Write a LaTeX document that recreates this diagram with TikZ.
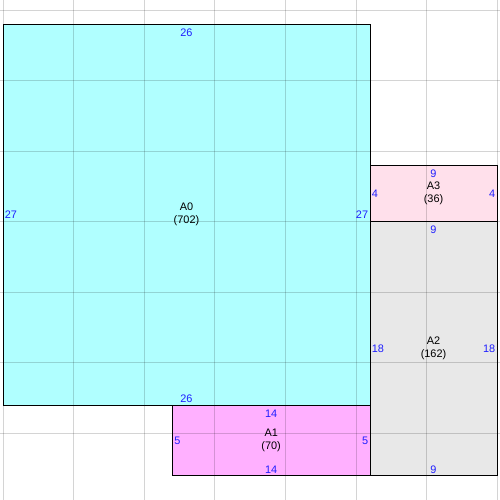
\documentclass[tikz,border=0pt]{standalone}
\usepackage{fontspec}
\setmainfont{Liberation Sans}
\definecolor{cyanarea}{HTML}{B0FFFF}
\definecolor{magentaarea}{HTML}{FFB0FF}
\definecolor{greyarea}{HTML}{E8E8E8}
\definecolor{pinkarea}{HTML}{FFE0EB}
\definecolor{sideblue}{HTML}{1E1EFF}

\begin{document}
\begin{tikzpicture}[x=0.5cm,y=-0.5cm]
   \useasboundingbox (-0.21,-1.70) rectangle (35.21,33.70);
   \tikzstyle{side}=[text=sideblue, inner sep=0pt, font=\fontsize{11}{13}\selectfont]
   \tikzstyle{areaname}=[align=center, inner sep=0pt, font=\fontsize{11}{13}\selectfont]
   \tikzstyle{area}=[draw=black, line width=0.8pt]
   % fills
   \fill[cyanarea] (0,0) rectangle (26,27);
   \fill[magentaarea] (12,27) rectangle (26,32);
   \fill[greyarea] (26,14) rectangle (35,32);
   \fill[pinkarea] (26,10) rectangle (35,14);
   % grid
   \foreach \x in {0,5,...,35}
      \draw[black, draw opacity=0.17, line width=0.75pt] (\x,-1.70) -- (\x,33.70);
   \foreach \y in {-1,4,...,29}
      \draw[black, draw opacity=0.17, line width=0.75pt] (-0.21,\y) -- (35.21,\y);
   % outlines
   \draw[area] (0,0) rectangle (26,27);
   \draw[area] (12,27) rectangle (26,32);
   \draw[area] (26,14) rectangle (35,32);
   \draw[area] (26,10) rectangle (35,14);
   % A0
   \node[areaname] (a0) at (13,13.5) {A0\\(702)};
   \node[side,anchor=north] (a0top) at (13,0.3) {26};
   \node[side,anchor=south] (a0bottom) at (13,26.85) {26};
   \node[side,anchor=west] (a0left) at (0.12,13.5) {27};
   \node[side,anchor=east] (a0right) at (25.88,13.5) {27};
   % A1
   \node[areaname] (a1) at (19,29.5) {A1\\(70)};
   \node[side,anchor=north] (a1top) at (19,27.3) {14};
   \node[side,anchor=south] (a1bottom) at (19,31.85) {14};
   \node[side,anchor=west] (a1left) at (12.12,29.5) {5};
   \node[side,anchor=east] (a1right) at (25.88,29.5) {5};
   % A2
   \node[areaname] (a2) at (30.5,23) {A2\\(162)};
   \node[side,anchor=north] (a2top) at (30.5,14.3) {9};
   \node[side,anchor=south] (a2bottom) at (30.5,31.85) {9};
   \node[side,anchor=west] (a2left) at (26.12,23) {18};
   \node[side,anchor=east] (a2right) at (34.88,23) {18};
   % A3
   \node[areaname] (a3) at (30.5,12) {A3\\(36)};
   \node[side,anchor=north] (a3top) at (30.5,10.3) {9};
   \node[side,anchor=west] (a3left) at (26.12,12) {4};
   \node[side,anchor=east] (a3right) at (34.88,12) {4};
\end{tikzpicture}
\end{document}
